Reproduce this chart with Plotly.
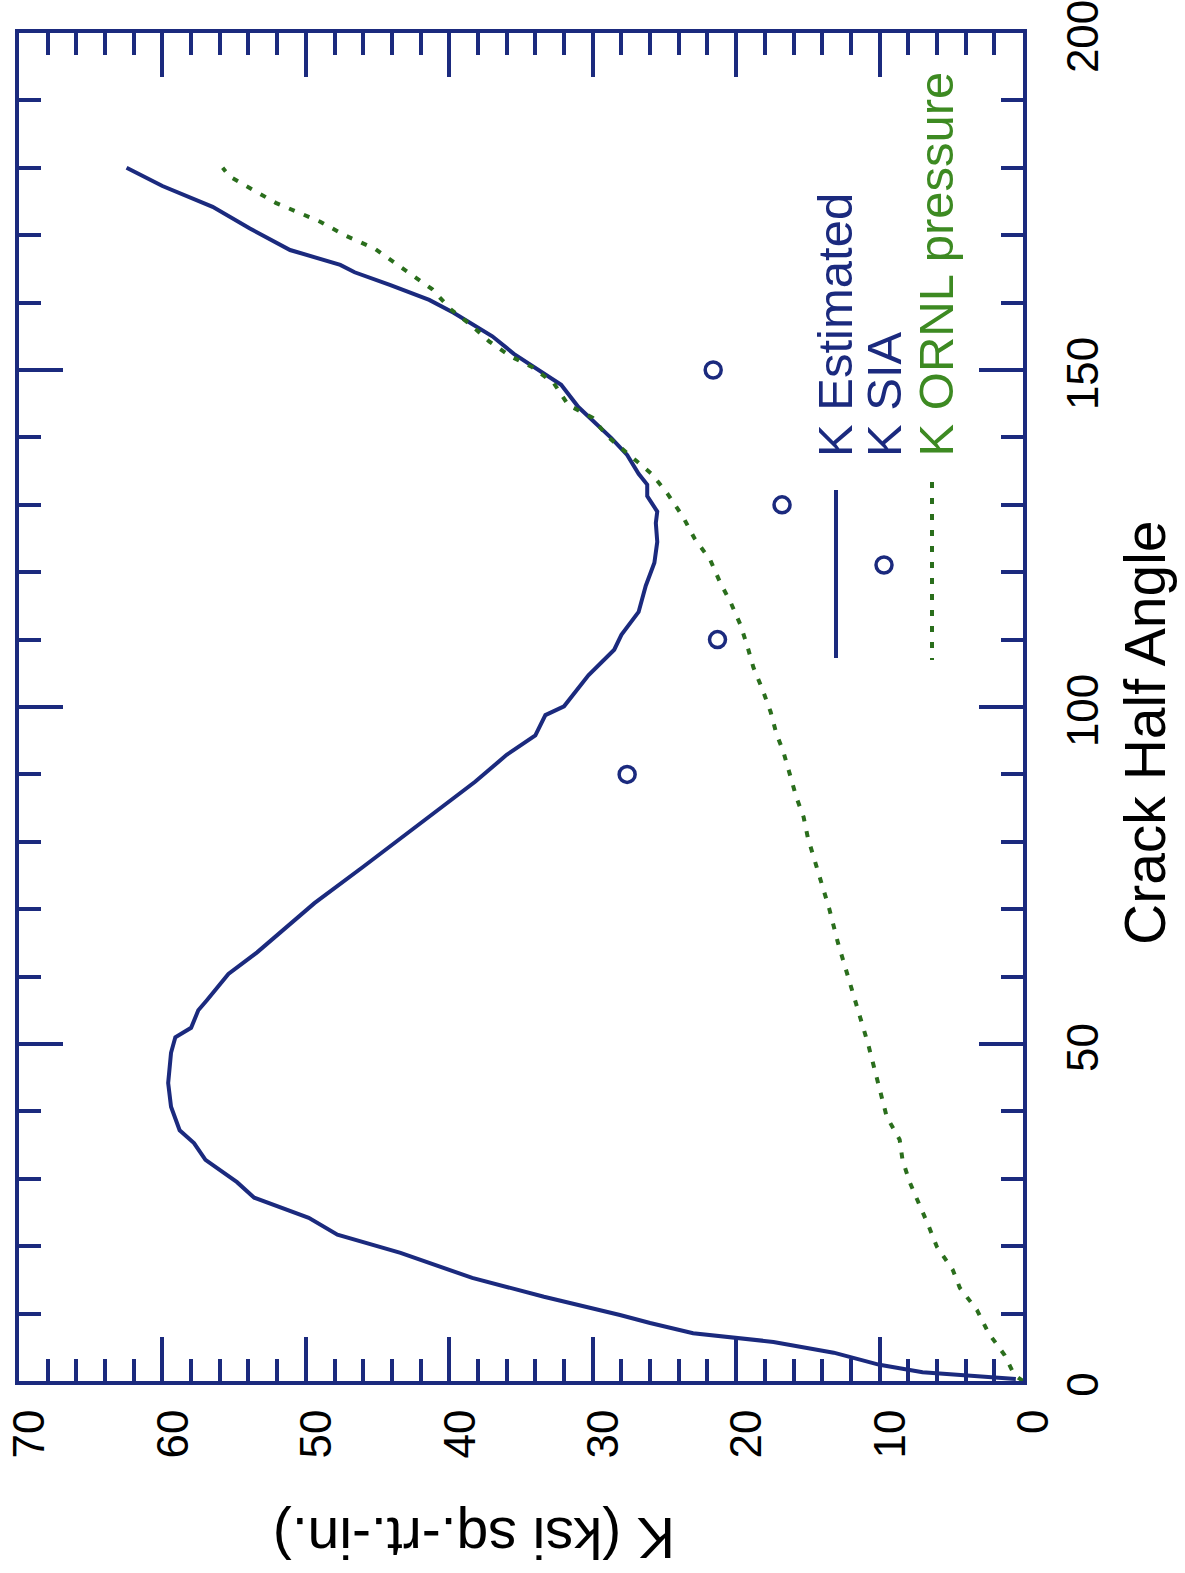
import plotly.graph_objects as go

# K Estimated (solid navy line): crack half angle (deg) vs K
angle_est = [0.3, 0.8, 1.3, 2.4, 4.2, 5.8, 6.4, 7.1, 8.6, 9.8, 12.5, 15.3, 19.0, 21.7, 24.2,
             27.2, 29.5, 32.8, 35.3, 37.2, 40.7, 44.2, 48.7, 51.0, 52.4, 55.0, 56.5, 60.4,
             63.6, 67.0, 70.9, 76.3, 81.6, 85.0, 88.9, 92.9, 95.8, 98.8, 100.1, 104.7, 108.5,
             110.7, 114.1, 118.0, 121.4, 124.5, 127.3, 129.0, 131.3, 133.0, 134.6, 137.4,
             139.9, 144.5, 147.8, 152.4, 155.0, 158.5, 160.4, 162.6, 164.5, 165.6, 167.8,
             171.0, 174.2, 177.3, 180.0]
k_est = [0.5, 3.5, 7.0, 10.0, 13.2, 17.4, 20.2, 23.0, 26.0, 28.1, 33.4, 38.4, 43.4, 47.8, 49.8,
         53.6, 54.8, 57.0, 57.8, 58.8, 59.4, 59.6, 59.4, 59.1, 58.0, 57.5, 56.9, 55.4,
         53.4, 51.5, 49.4, 46.0, 42.7, 40.6, 38.2, 36.0, 34.0, 33.3, 32.0, 30.3, 28.5,
         28.0, 26.8, 26.3, 25.7, 25.5, 25.6, 25.5, 26.2, 26.2, 26.8, 27.6,
         28.7, 31.0, 32.2, 35.5, 37.0, 39.7, 41.4, 44.1, 46.6, 47.6, 51.1,
         53.9, 56.5, 60.0, 62.5]

# K SIA (open circles)
angle_sia = [90, 110, 130, 150]
k_sia = [27.6, 21.3, 16.8, 21.6]

# K ORNL pressure (green dotted)
angle_ornl = [0, 0.9, 3.9, 7.1, 10.5, 13.8, 16.5, 19.9, 23.1, 26.4, 29.5, 32.8, 35.8, 39.2,
              45, 50, 55, 60, 65, 70, 75, 80.6, 83.7, 86.6, 89.6, 93.3, 96.1, 99.3, 102.8,
              105.9, 108.9, 112.2, 115.6, 118.4, 121.8, 125, 128.2, 131.7, 134.6, 137.5,
              140.2, 142.9, 144.8, 148, 150.4, 152, 154.2, 156.7, 159, 162, 164, 166, 168,
              170, 172, 174.8, 176.6, 178.7, 180]
k_ornl = [0, 0.6, 1.3, 2.4, 3.2, 4.4, 4.9, 6.0, 6.6, 7.3, 7.9, 8.4, 8.6, 9.5,
          10.2, 10.8, 11.5, 12.2, 12.9, 13.5, 14.2, 15.0, 15.3, 15.8, 16.2, 16.7, 17.2, 17.6, 18.2,
          18.8, 19.2, 19.7, 20.4, 21.1, 21.8, 22.9, 23.7, 24.8, 25.9, 27.5,
          29.0, 30.0, 31.7, 32.7, 34.2, 35.7, 37.2, 38.5, 39.9, 41.2, 42.5, 43.8, 45.2,
          47.3, 49.0, 52.1, 53.6, 55.3, 55.8]

k_ticks = [0, 10, 20, 30, 40, 50, 60, 70]
angle_ticks = [0, 50, 100, 150, 200]

NAVY = "#1b2a7e"
GREEN = "#2a6e1c"
GREEN_TXT = "#3d8a22"
FONT = "Liberation Sans, Arial, sans-serif"

fig = go.Figure()
fig.add_trace(go.Scatter(x=k_est, y=angle_est, mode="lines",
                         line=dict(color=NAVY, width=4), name="K Estimated"))
fig.add_trace(go.Scatter(x=k_sia, y=angle_sia, mode="markers",
                         marker=dict(symbol="circle-open", size=16, color=NAVY,
                                     line=dict(color=NAVY, width=3.5)), name="K SIA"))
fig.add_trace(go.Scatter(x=k_ornl, y=angle_ornl, mode="lines",
                         line=dict(color=GREEN, width=4, dash="6px,10px"), name="K ORNL pressure"))

fig.update_layout(
    width=1185, height=1573,
    margin=dict(l=19, r=162, t=33, b=192, autoexpand=False),
    paper_bgcolor="white", plot_bgcolor="white",
    showlegend=False,
    font=dict(family=FONT, color="black"),
)

fig.update_xaxes(
    range=[70, 0], tickvals=k_ticks, ticktext=[str(v) for v in k_ticks],
    tickangle=-90, tickfont=dict(size=44, family=FONT, color="black"),
    ticklabeloverflow="allow", ticklabelshift=-11, ticklabelstandoff=7, automargin=False,
    ticks="inside", ticklen=44, tickwidth=3.5, tickcolor=NAVY,
    minor=dict(dtick=2, ticks="inside", ticklen=22, tickwidth=3.5, tickcolor=NAVY),
    showline=True, linewidth=4, linecolor=NAVY, mirror="ticks",
    showgrid=False, zeroline=False,
)
fig.update_yaxes(
    range=[0, 200], side="right", tickvals=angle_ticks, ticktext=[str(v) for v in angle_ticks],
    tickangle=-90, tickfont=dict(size=44, family=FONT, color="black"),
    ticklabeloverflow="allow", ticklabelshift=10, ticklabelstandoff=18, automargin=False,
    ticks="inside", ticklen=44, tickwidth=3.5, tickcolor=NAVY,
    minor=dict(dtick=10, ticks="inside", ticklen=22, tickwidth=3.5, tickcolor=NAVY),
    showline=True, linewidth=4, linecolor=NAVY, mirror="ticks",
    showgrid=False, zeroline=False,
)

# axis titles (rotated as in the scanned figure)
fig.add_annotation(text="Crack Half Angle", xref="paper", yref="paper",
                   x=(1145 - 19) / 1004, y=(1381 - 733) / 1348, showarrow=False,
                   textangle=-90, font=dict(size=57, family=FONT, color="black"),
                   xanchor="center", yanchor="middle")
fig.add_annotation(text="K (ksi sq.-rt.-in.)", xref="paper", yref="paper",
                   x=(474 - 19) / 1004, y=(1381 - 1538) / 1348, showarrow=False,
                   textangle=180, font=dict(size=57, family=FONT, color="black"),
                   xanchor="center", yanchor="middle")

# legend (rotated)
leg = [("K Estimated", 835, NAVY), ("K SIA", 884, NAVY), ("K ORNL pressure", 936, GREEN_TXT)]
for txt, px, col in leg:
    fig.add_annotation(text=txt, xref="paper", yref="paper",
                       x=(px - 19) / 1004, y=(1381 - 459) / 1348, showarrow=False,
                       textangle=-90, font=dict(size=49, family=FONT, color=col),
                       xanchor="center", yanchor="bottom")

def px2x(px):
    return (px - 19) / 1004

def py2y(py):
    return (1381 - py) / 1348

fig.add_shape(type="line", xref="paper", yref="paper",
              x0=px2x(836), x1=px2x(836), y0=py2y(490), y1=py2y(658),
              line=dict(color=NAVY, width=4))
fig.add_shape(type="circle", xref="paper", yref="paper",
              x0=px2x(876), x1=px2x(892), y0=py2y(557), y1=py2y(573),
              line=dict(color=NAVY, width=3.5))
fig.add_shape(type="line", xref="paper", yref="paper",
              x0=px2x(932), x1=px2x(932), y0=py2y(482), y1=py2y(660),
              line=dict(color=GREEN, width=4, dash="6px,10px"))

fig.write_html("out.html")
